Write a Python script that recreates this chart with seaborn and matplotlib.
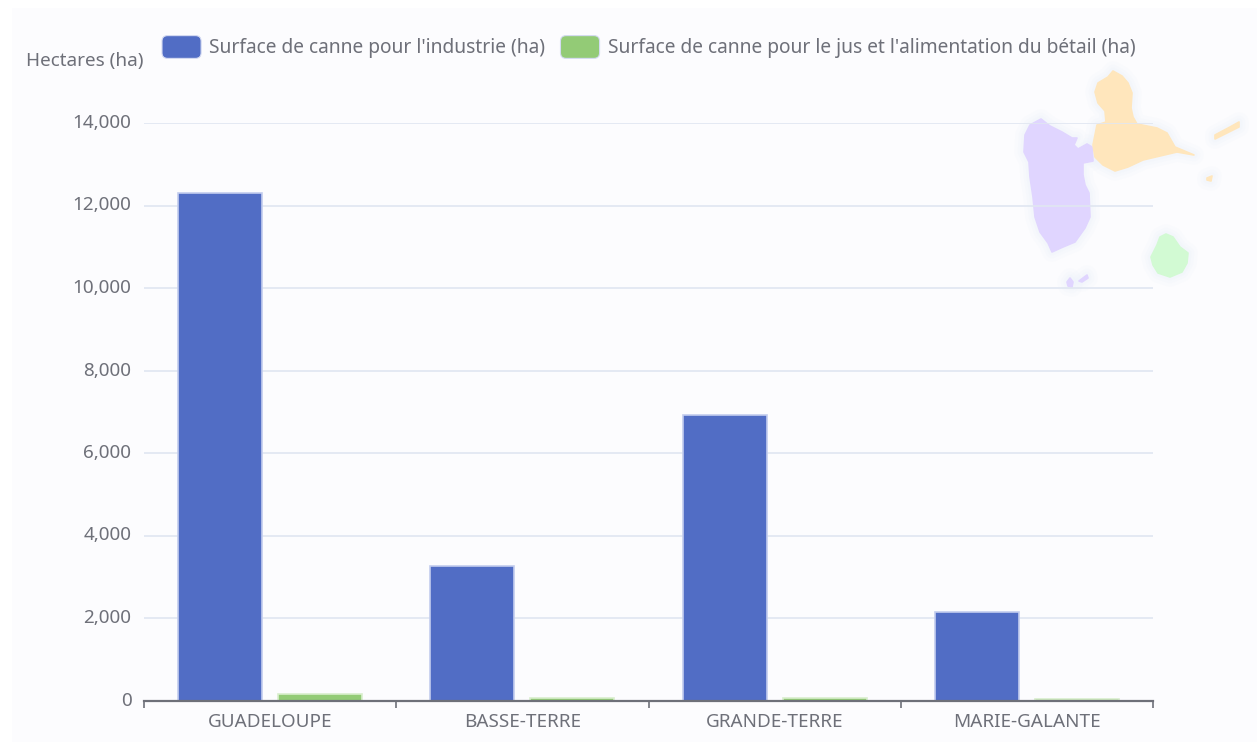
import matplotlib
matplotlib.use("Agg")
import matplotlib.pyplot as plt
import pandas as pd
import seaborn as sns
from matplotlib.legend_handler import HandlerPatch
from matplotlib.patches import FancyBboxPatch, Polygon, Rectangle
from matplotlib.ticker import FuncFormatter
from matplotlib.transforms import ScaledTranslation

W, H = 1257, 744

# donnees
regions = ["GUADELOUPE", "BASSE-TERRE", "GRANDE-TERRE", "MARIE-GALANTE"]
surface_industrie = [12300, 3260, 6930, 2140]
surface_jus = [150, 50, 70, 25]
nom_industrie = "Surface de canne pour l'industrie (ha)"
nom_jus = "Surface de canne pour le jus et l'alimentation du bétail (ha)"
yticks = [0, 2000, 4000, 6000, 8000, 10000, 12000, 14000]

# contours de la carte decorative (pixels de l'image)
basse_terre = [(1041, 119), (1050, 126), (1062, 132), (1072, 138), (1077, 138), (1074, 145), (1078, 149),
               (1087, 144), (1092, 147), (1093, 161), (1083, 163), (1083, 175), (1085, 185), (1089, 193),
               (1090, 217), (1085, 228), (1075, 242), (1063, 247), (1052, 252), (1048, 243), (1040, 232),
               (1035, 217), (1033, 197), (1030, 177), (1029, 162), (1024, 152), (1025, 135), (1030, 125)]
saintes_a = [(1070, 278), (1073, 282), (1072, 287), (1068, 286), (1067, 282)]
saintes_b = [(1079, 281), (1087, 275), (1088, 278), (1082, 282)]
grande_terre = [(1113, 71), (1122, 76), (1128, 83), (1132, 93), (1131, 108), (1133, 117), (1137, 124),
                (1157, 128), (1167, 133), (1175, 147), (1194, 155), (1177, 152), (1160, 156), (1143, 160),
                (1128, 167), (1115, 171), (1103, 165), (1095, 157), (1093, 145), (1097, 125), (1106, 122),
                (1105, 111), (1098, 103), (1095, 92), (1098, 83), (1108, 77)]
desirade = [(1215, 135), (1230, 127), (1239, 122), (1239, 127), (1227, 133), (1215, 139)]
petite_terre = [(1207, 178), (1212, 176), (1211, 181), (1207, 180)]
marie_galante = [(1166, 234), (1173, 237), (1180, 247), (1188, 253), (1187, 263), (1182, 272), (1170, 277),
                 (1158, 273), (1153, 265), (1151, 257), (1157, 245), (1160, 237)]


class HandlerArrondi(HandlerPatch):
    def create_artists(self, legend, orig, xd, yd, width, height, fontsize, trans):
        p = FancyBboxPatch((-xd + 3, -yd + 3), width - 6, height - 6, boxstyle="round,pad=3,rounding_size=4",
                           facecolor=orig.get_facecolor(), edgecolor="#d5dbf2", linewidth=0.8, transform=trans)
        return [p]


def px(x, y):
    return x / W, 1 - y / H


def dessine_carte(fig):
    groupes = [
        ([basse_terre, saintes_a, saintes_b], "#e0d5ff"),
        ([grande_terre, desirade, petite_terre], "#ffe6bc"),
        ([marie_galante], "#d2fad3"),
    ]
    for contours, couleur in groupes:
        for contour in contours:
            pts = [px(x, y) for x, y in contour]
            # halo bleute autour des iles
            for lw, a in [(14, 0.2), (9, 0.25), (5, 0.3)]:
                fig.add_artist(Polygon(pts, closed=True, transform=fig.transFigure, facecolor="none",
                                       edgecolor="#eef3fb", linewidth=lw, alpha=a, joinstyle="round", zorder=-1))
            fig.add_artist(Polygon(pts, closed=True, transform=fig.transFigure, facecolor=couleur,
                                   edgecolor=couleur, linewidth=1.2, joinstyle="round", zorder=-0.5))


def main():
    sns.set_theme(style="white")
    plt.rcParams["font.family"] = ["Noto Sans", "DejaVu Sans"]

    df = pd.DataFrame({
        "region": regions * 2,
        "surface": surface_industrie + surface_jus,
        "type": [nom_industrie] * 4 + [nom_jus] * 4,
    })

    fig = plt.figure(figsize=(W / 100, H / 100), dpi=100, facecolor="white")
    fig.add_artist(Rectangle(px(12, 742), (W - 12) / W, 734 / H, transform=fig.transFigure,
                             facecolor="#fcfcfe", edgecolor="none", zorder=-2))
    dessine_carte(fig)

    ax = fig.add_axes([144 / W, 1 - 700.5 / H, (1153 - 144) / W, (700.5 - 123) / H])
    ax.patch.set_visible(False)

    sns.barplot(data=df, x="region", y="surface", hue="type", order=regions,
                palette=["#516dc5", "#93cb76"], width=0.793, gap=0.16, ax=ax,
                edgecolor="#c3cdee", linewidth=1.2, saturation=1, legend=False)
    for barre in ax.containers[1]:
        barre.set_edgecolor("#d9eecd")

    ax.set_xlim(-0.5, 3.5)
    ax.set_ylim(0, 14000)
    ax.set_yticks(yticks)
    ax.yaxis.set_major_formatter(FuncFormatter(lambda v, _: f"{int(v):,}"))
    ax.set_xlabel("")
    ax.set_ylabel("")
    ax.grid(axis="y", color="#e0e6f1", linewidth=1.2)
    ax.set_axisbelow(True)

    sns.despine(ax=ax, left=True, top=True, right=True)
    ax.spines["bottom"].set_color("#6e7079")
    ax.spines["bottom"].set_linewidth(1.6)
    ax.spines["bottom"].set_zorder(5)

    ax.tick_params(axis="y", length=0, pad=9, labelsize=13.6, labelcolor="#6e7079")
    ax.tick_params(axis="x", which="major", length=0, pad=9, labelsize=13.6, labelcolor="#6e7079")
    ax.set_xticks([-0.5, 0.5, 1.5, 2.5, 3.5], minor=True)
    ax.tick_params(axis="x", which="minor", bottom=True, length=5, width=1.2, color="#6e7079")

    # les etiquettes de l'axe y sont un peu au-dessus des lignes
    decalage = ScaledTranslation(0, 2 / 100, fig.dpi_scale_trans)
    for label in ax.get_yticklabels():
        label.set_transform(label.get_transform() + decalage)

    fig.text(84.5 / W, 1 - 61 / H, "Hectares (ha)", color="#6e7079", fontsize=13.6, ha="center", va="center")

    handles = [Rectangle((0, 0), 1, 1, facecolor=c) for c in ["#516dc5", "#93cb76"]]
    fig.legend(handles, [nom_industrie, nom_jus], ncol=2, frameon=False, fontsize=13.8,
               loc="center left", bbox_to_anchor=px(162, 47), labelcolor="#6e7079",
               handlelength=2.04, handleheight=1.45, handletextpad=0.42, columnspacing=0.8,
               borderpad=0, borderaxespad=0,
               handler_map={Rectangle: HandlerArrondi()})

    fig.savefig("out.png", dpi=100)


if __name__ == "__main__":
    main()
